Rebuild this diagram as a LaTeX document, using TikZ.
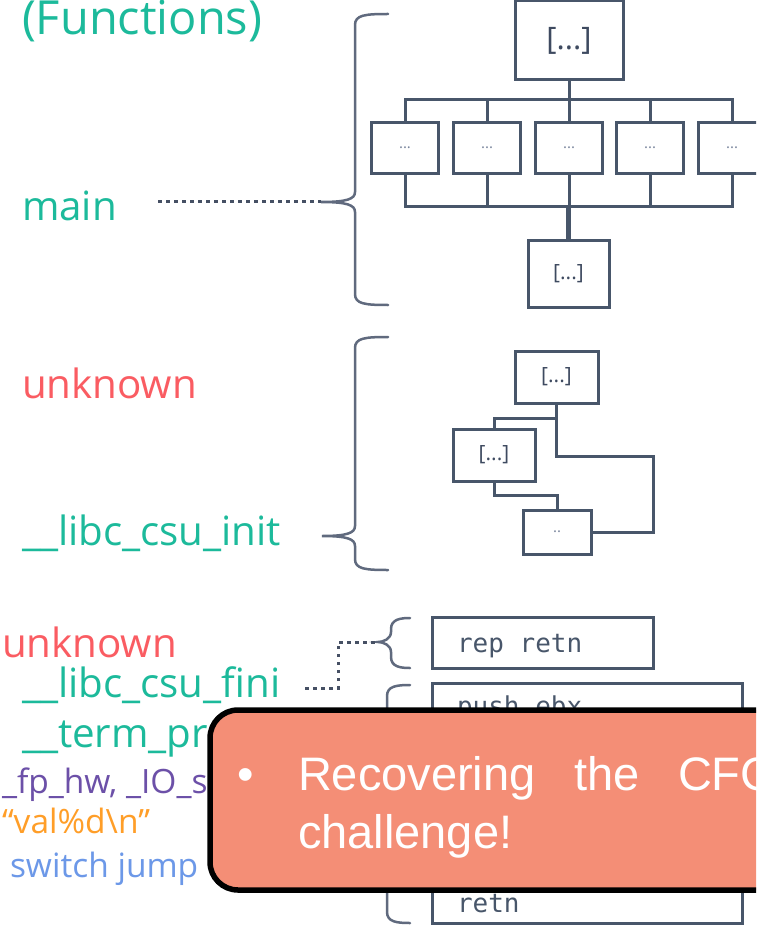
\documentclass[tikz,border=0pt]{standalone}
\usepackage{fontspec}
\setmainfont{Open Sans}
\newfontfamily\calloutfont{Liberation Sans}
\newfontfamily\codefont{DejaVu Sans Mono}
\usetikzlibrary{calc}

\definecolor{fnteal}{RGB}{28,186,155}
\definecolor{fnred}{RGB}{250,92,98}
\definecolor{datapurple}{RGB}{108,80,168}
\definecolor{strorange}{RGB}{255,158,40}
\definecolor{jumpblue}{RGB}{108,152,232}
\definecolor{boxc}{RGB}{72,86,106}
\definecolor{bracec}{RGB}{96,106,126}
\definecolor{leaderc}{RGB}{70,80,100}
\definecolor{blocktext}{RGB}{62,74,96}
\definecolor{dotstext}{RGB}{120,132,156}
\definecolor{calloutc}{RGB}{244,142,118}

% curly brace: spine x, end x, top y, tip x, tip y, bottom y
\newcommand{\cfgbrace}[6]{%
  \draw[brace] (#2,#3) .. controls ({#1+10},#3) and (#1,{#3+1}) .. (#1,{#3+11})
    -- (#1,{#5-10}) .. controls (#1,{#5-3}) and ({#1-8},#5) .. (#4,#5)
    .. controls ({#1-8},#5) and (#1,{#5+3}) .. (#1,{#5+10})
    -- (#1,{#6-11}) .. controls (#1,{#6-1}) and ({#1+10},#6) .. (#2,#6);}

\begin{document}
\begin{tikzpicture}[x=1pt,y=-1pt,
  lbl/.style={anchor=base west, inner sep=0pt, outer sep=0pt},
  title/.style={lbl, text=fnteal, font=\fontsize{47}{56}\selectfont},
  fn/.style={lbl, font=\fontsize{40.3}{48}\selectfont},
  datalbl/.style={lbl, font=\fontsize{33.5}{40}\selectfont},
  block/.style={draw=boxc, line width=3pt, inner sep=0pt, fill=white},
  bigtag/.style={text=blocktext, font=\fontsize{31}{37}\selectfont},
  tag/.style={text=blocktext, font=\fontsize{21}{25}\selectfont},
  dots/.style={text=dotstext, font=\fontsize{15}{18}\selectfont},
  wire/.style={draw=boxc, line width=3pt},
  brace/.style={draw=bracec, line width=2.5pt, line cap=round},
  leader/.style={draw=leaderc, line width=3pt, dash pattern=on 3.5pt off 4.5pt},
  code/.style={lbl, text=boxc, font=\codefont\fontsize{26}{31}\selectfont},
  calltext/.style={lbl, text=white, font=\calloutfont\fontsize{47}{56}\selectfont}]

\useasboundingbox (0,0) rectangle (756,933);
\clip (0,0) rectangle (756,933);
\fill[white] (0,0) rectangle (756,933);

% ---- function names ----
\node[title] (functions) at (22,35) {(Functions)};
\node[fn, text=fnteal] (mainlbl) at (22,221) {main};
\node[fn, text=fnred] (unk1) at (22,398) {unknown};
\node[fn, text=fnteal] (csuinit) at (22,545) {\_\_libc\_csu\_init};
\node[fn, text=fnred] (unk2) at (2,657) {unknown};
\node[fn, text=fnteal] (csufini) at (22,697) {\_\_libc\_csu\_fini};
\node[fn, text=fnteal] (termproc) at (22,747) {\_\_term\_proc};
\node[datalbl, text=datapurple] (fphw) at (2,793) {\_fp\_hw, \_IO\_stdin\_used};
\node[datalbl, text=strorange] (valfmt) at (2,833) {“val\%d\textbackslash n”};
\node[datalbl, text=jumpblue] (switchj) at (10,877) {switch jump};

% ---- braces ----
\coordinate (tipMain) at (321,202);
\coordinate (tipInit) at (322,536);
\coordinate (tipFini) at (378,642);
\cfgbrace{355}{388}{14}{321}{202}{305}
\cfgbrace{355}{388}{337}{322}{536}{570}
\cfgbrace{391}{410}{618}{378}{642}{668}
\cfgbrace{387}{410}{685}{374}{803}{923}

% ---- dotted leaders ----
\coordinate (leadMain) at (158,202);
\coordinate (leadFini) at (305,688);
\draw[leader] (leadMain) -- (tipMain);
\draw[leader] (leadFini) -- ++(33,0) |- (tipFini);

% ---- CFG of main ----
\coordinate (busTop) at (0,100);
\coordinate (busBot) at (0,207);
\node[block, minimum width=108pt, minimum height=79pt, bigtag] (m0) at (569,40.5) {[...]};
\foreach \i/\x in {1/405,2/487,3/569,4/650,5/732}
  \node[block, minimum width=67pt, minimum height=51pt, dots] (m\i) at (\x,148) {...};
\node[block, minimum width=81pt, minimum height=67pt, tag] (mexit) at (568.5,273.5) {[...]};
\foreach \i in {1,...,5} {
  \draw[wire] (m0.south) -- (m0.south |- busTop) -| (m\i.north);
  \draw[wire] (m\i.south) -- (m\i.south |- busBot) -| (mexit.north);
}
\draw[boxc, line width=4.5pt] (mexit.north |- busBot) -- (mexit.north);

% ---- CFG of the unknown function ----
\coordinate (loopR) at (653,456);
\node[block, minimum width=83pt, minimum height=52pt, tag] (ua) at (556.5,377) {[...]};
\node[block, minimum width=82pt, minimum height=52pt, tag] (ub) at (494,455) {[...]};
\node[block, minimum width=68pt, minimum height=44pt, dots] (uc) at (557,532) {..};
\draw[wire] (ua.south) -- ++(0,14) -| (ub.north);
\draw[wire] (ua.south) |- (loopR) |- (uc.east);
\draw[wire] (ub.south) -- ++(0,13) -| (uc.north);

% ---- code blocks ----
\node[block, minimum width=221pt, minimum height=51pt] (rep) at (542.5,642.5) {};
\node[code] (reptxt) at (457,652) {rep retn};
\node[block, minimum width=310pt, minimum height=240pt] (body) at (587,803) {};
\node[code] (pushtxt) at (457,715) {push ebx};
\node[code] (retntxt) at (457,912) {retn};

% ---- callout ----
\node[draw=black, line width=5.5pt, fill=calloutc, rounded corners=28pt,
      minimum width=590pt, minimum height=180pt, inner sep=0pt] (note) at (505,800) {};
\node[calltext] (bullet) at (237,790) {•};
\node[calltext] (line1) at (298,790) {Recovering\hspace{38.5pt}the\hspace{38.5pt}CFG};
\node[calltext] (line2) at (298,848) {challenge!};
\end{tikzpicture}
\end{document}
